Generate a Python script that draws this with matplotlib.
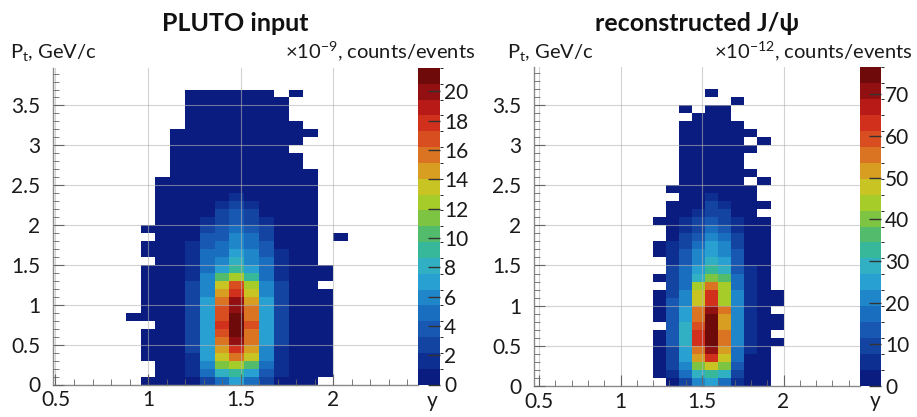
import numpy as np
import matplotlib.pyplot as plt
from matplotlib.colors import ListedColormap, BoundaryNorm
from matplotlib.ticker import MultipleLocator, FuncFormatter

plt.rcParams['font.family'] = ['Lato', 'DejaVu Sans']
plt.rcParams['mathtext.default'] = 'regular'

# rapidity bins (0.08 wide) and pt bins (0.1 GeV/c wide)
y_edges = [0.88, 0.96, 1.04, 1.12, 1.20, 1.28, 1.36, 1.44,
           1.52, 1.60, 1.68, 1.76, 1.84, 1.92, 2.00, 2.08]
pt_edges = np.linspace(0.0, 3.7, 38)

# palette level of every bin, 1..20 -> "1".."K", '.' = empty; top pt row first
level_keys = "123456789ABCDEFGHIJK"

pluto_rows = [
    "....111111.1...",  # 3.6-3.7
    "....1111111....",
    "....1111111....",
    "....1111111....",
    "....11111111...",
    "...1111111111..",  # 3.1-3.2
    "...111111111...",
    "...11111111....",
    "...111111111...",
    "...111111111...",
    "...1111111111..",  # 2.6-2.7
    "..11111111111..",
    "..11111111111..",
    "..11111211111..",
    "..11112321111..",
    "..11113431111..",  # 2.1-2.2
    "..11123432111..",
    ".111134543111..",
    "..11144653111.1",
    ".111245654111..",
    ".111255764211..",  # 1.6-1.7
    "..11256865211..",
    ".1112579752111.",
    ".11126AC952111.",
    ".11136DGC6311..",
    ".11136EHD63111.",  # 1.1-1.2
    ".11137FJE73111.",
    ".11137GJF73111.",
    "111137GKF73111.",
    "..1137HKG73111.",
    ".11137GKF73111.",  # 0.6-0.7
    ".11137FJF73111.",
    ".11137EHE62111.",
    ".11127DFD62111.",
    "..1126BCA52111.",
    "..112589742111.",  # 0.1-0.2
    ".111135753111..",
]
pluto_zmax = 21.6

reco_rows = [
    "........1......",  # 3.6-3.7
    "..........1....",
    "......1.11.....",
    ".......111.....",
    "......11111....",
    "......111111...",  # 3.1-3.2
    "......11111.1..",
    "......111111...",
    "......11111....",
    "......11111....",
    "......111111...",  # 2.6-2.7
    "......11111.1..",
    ".....1111111...",
    "......112111...",
    ".....11132111..",
    ".....1123311...",  # 2.1-2.2
    "....112343211..",
    ".....12354211..",
    ".....13465311..",
    "....123576311..",
    "....124676411..",  # 1.6-1.7
    ".....24687411..",
    ".....35798421..",
    "....1358BA521..",
    ".....35CFC521..",
    "....136DHC6211.",  # 1.1-1.2
    "....146DHC6211.",
    "....147FJF621..",
    "....147FKE6211.",
    ".....48GKE6211.",
    "....148HKF621..",  # 0.6-0.7
    "....148HKF6211.",
    "....137FJE521..",
    "....137EHD511..",
    "....136BDB411..",
    "....125898311..",  # 0.1-0.2
    ".....13675211..",
]
reco_zmax = 76.5

palette = ['#0a1c80', '#0e2f92', '#1444a2', '#1858b2', '#1a6ec0',
           '#2086ca', '#28a0d2', '#30b0c2', '#38b89a', '#52bc6c',
           '#7cc442', '#a6cc2a', '#c8c424', '#d89e22', '#da7422',
           '#d84e20', '#d0301c', '#b81a18', '#921012', '#6e0a0a']
cmap = ListedColormap(palette)
cmap.set_bad('white')


def rows_to_counts(rows, zmax):
    step = zmax / len(palette)
    counts = np.full((len(rows), len(rows[0])), np.nan)
    for i, row in enumerate(rows[::-1]):
        for j, ch in enumerate(row):
            if ch != '.':
                counts[i, j] = (level_keys.index(ch) + 0.5) * step
    return np.ma.masked_invalid(counts)


def draw_panel(fig, ax_box, cax_box, xlim, rows, zmax, cticks, title, zlabel,
               ylab_x, zlab_x, xlab_x):
    ax = fig.add_axes(ax_box)
    cax = fig.add_axes(cax_box)
    norm = BoundaryNorm(np.linspace(0, zmax, len(palette) + 1), cmap.N)
    mesh = ax.pcolormesh(y_edges, pt_edges, rows_to_counts(rows, zmax),
                         cmap=cmap, norm=norm, zorder=1)

    ax.set_xlim(*xlim)
    ax.set_ylim(0, 3.97)
    ax.xaxis.set_major_locator(MultipleLocator(0.5))
    ax.xaxis.set_minor_locator(MultipleLocator(0.1))
    ax.yaxis.set_major_locator(MultipleLocator(0.5))
    ax.yaxis.set_minor_locator(MultipleLocator(0.1))
    fmt = FuncFormatter(lambda v, p: f'{v:g}')
    ax.xaxis.set_major_formatter(fmt)
    ax.yaxis.set_major_formatter(fmt)
    ax.set_axisbelow(False)
    ax.grid(True, which='major', color='#b4b4b4', lw=0.8, alpha=0.6, zorder=2)
    ax.tick_params(which='both', direction='in', top=False, right=False,
                   color='#666666', labelsize=15, labelcolor='#1a1a1a')
    ax.tick_params(axis='x', which='major', length=8, pad=4)
    ax.tick_params(axis='y', which='major', length=8, pad=9)
    ax.tick_params(which='minor', length=4)
    for side in ('top', 'right'):
        ax.spines[side].set_visible(False)
    for side in ('left', 'bottom'):
        ax.spines[side].set_color('#8a8a8a')
        ax.spines[side].set_linewidth(1.0)

    cb = fig.colorbar(mesh, cax=cax, ticks=cticks)
    cb.outline.set_visible(False)
    cax.tick_params(direction='in', length=9, width=1, color='#333333',
                    labelsize=15, labelcolor='#1a1a1a', pad=3)

    x0, y0, w, h = ax_box
    fig.text(x0 + w / 2, 1 - 31 / 417, title, ha='center', va='baseline',
             fontsize=18, fontweight='bold', color='#111111')
    fig.text(ylab_x, 1 - 58 / 417, 'P$_t$, GeV/c', ha='left', va='baseline',
             fontsize=14.5, color='#1a1a1a')
    fig.text(zlab_x, 1 - 58 / 417, zlabel, ha='right', va='baseline',
             fontsize=14.5, color='#1a1a1a')
    fig.text(xlab_x, 1 - 407 / 417, 'y', ha='center', va='baseline',
             fontsize=15, color='#1a1a1a')
    return ax


fig = plt.figure(figsize=(9.17, 4.17), dpi=100)
W, H = 917.0, 417.0

draw_panel(fig,
           [53 / W, (H - 384.5) / H, 365 / W, 316.5 / H],
           [418 / W, (H - 384.5) / H, 22 / W, 316.5 / H],
           (0.4865, 2.459), pluto_rows, pluto_zmax,
           list(range(0, 21, 2)), 'PLUTO input',
           r'$\times$10$^{-9}$, counts/events',
           10 / W, 475 / W, 432 / W)

draw_panel(fig,
           [534 / W, (H - 386) / H, 326 / W, 319 / H],
           [860 / W, (H - 386) / H, 21 / W, 319 / H],
           (0.469, 2.469), reco_rows, reco_zmax,
           list(range(0, 71, 10)), 'reconstructed J/\u03c8',
           r'$\times$10$^{-12}$, counts/events',
           507 / W, 913 / W, 875 / W)

fig.savefig('out.png', dpi=100)
